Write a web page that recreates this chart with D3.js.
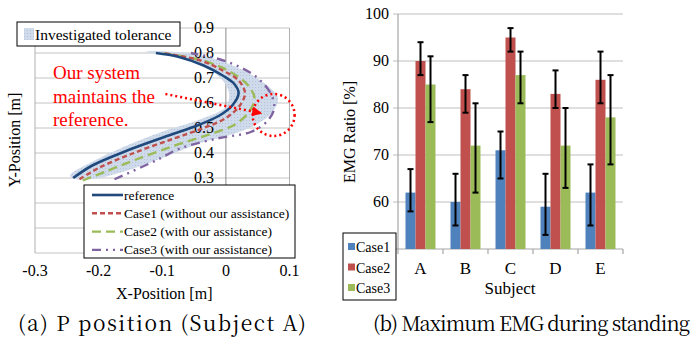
<!DOCTYPE html>
<html>
<head>
<meta charset="utf-8">
<script src="https://cdn.jsdelivr.net/npm/d3@7"></script>
<style>
  body { margin: 0; background: #fff; }
</style>
</head>
<body>
<div id="chart"></div>
<script>
// ---- (a) P position data ----
const refPath = [[-0.24,0.30],[-0.21,0.35],[-0.155,0.41],[-0.09,0.47],[-0.045,0.51],[-0.01,0.55],[0.01,0.59],[0.02,0.64],[0.012,0.68],[-0.005,0.71],[-0.035,0.75],[-0.075,0.785],[-0.11,0.80]];
const case1Path = [[-0.23,0.295],[-0.2,0.34],[-0.15,0.395],[-0.085,0.455],[-0.035,0.5],[0.0,0.54],[0.022,0.59],[0.03,0.64],[0.02,0.69],[-0.005,0.73],[-0.04,0.77],[-0.1,0.80]];
const case2Path = [[-0.225,0.29],[-0.19,0.325],[-0.14,0.375],[-0.08,0.43],[-0.025,0.475],[0.015,0.515],[0.038,0.57],[0.045,0.62],[0.035,0.67],[0.01,0.72],[-0.03,0.765],[-0.1,0.80]];
const case3Path = [[-0.175,0.295],[-0.11,0.37],[-0.07,0.42],[-0.01,0.46],[0.04,0.485],[0.066,0.53],[0.076,0.58],[0.07,0.64],[0.05,0.7],[0.025,0.74],[-0.01,0.775],[-0.055,0.80]];
const tolUpper = [[-0.245,0.31],[-0.21,0.365],[-0.16,0.425],[-0.1,0.485],[-0.04,0.535],[0.0,0.585],[0.005,0.64],[-0.005,0.69],[-0.03,0.74],[-0.07,0.78],[-0.125,0.805]];
const tolLower = [[-0.06,0.80],[-0.01,0.77],[0.035,0.72],[0.065,0.67],[0.082,0.62],[0.072,0.56],[0.045,0.51],[0.01,0.475],[-0.04,0.44],[-0.1,0.38],[-0.155,0.33],[-0.2,0.30],[-0.235,0.295]];
const xTicksA = [-0.3,-0.2,-0.1,0,0.1];
const yTicksA = [0.3,0.4,0.5,0.6,0.7,0.8,0.9];
const yGridA = [0,0.1,0.2,0.3,0.4,0.5,0.6,0.7,0.8,0.9];

// ---- (b) EMG data ----
const subjects = ["A","B","C","D","E"];
const cases = ["Case1","Case2","Case3"];
const case1Val = [62,60,71,59,62];
const case1Lo  = [58,55,65,53,55];
const case1Hi  = [67,66,75,66,68];
const case2Val = [90,84,95,83,86];
const case2Lo  = [87,79,92,80,81];
const case2Hi  = [94,87,97,88,92];
const case3Val = [85,72,87,72,78];
const case3Lo  = [77,62,81,63,68];
const case3Hi  = [91,81,92,80,87];
const yTicksB = [50,60,70,80,90,100];
const caseColors = ["#4f81bd","#c0504d","#9bbb59"];

const SERIF = '"Liberation Serif", "Times New Roman", monospace';
const CAP = '"Noto Serif CJK SC", "Liberation Serif", monospace';
const svg = d3.select("#chart").append("svg")
  .attr("width",695).attr("height",339);

// ================= (a) =================
const xa = d3.scaleLinear().domain([-0.3,0.1]).range([35,289.5]);
const ya = d3.scaleLinear().domain([0,0.9]).range([253,28]);
const ga = svg.append("g");

const defs = svg.append("defs");
const pat = defs.append("pattern").attr("id","tol").attr("width",3).attr("height",3)
  .attr("patternUnits","userSpaceOnUse");
pat.append("rect").attr("width",3).attr("height",3).attr("fill","#cfdaea");
pat.append("rect").attr("width",1).attr("height",1).attr("fill","#b3c4dc");
defs.append("marker").attr("id","arr").attr("viewBox","0 0 10 10")
  .attr("refX",8).attr("refY",5).attr("markerWidth",4).attr("markerHeight",4)
  .attr("orient","auto")
  .append("path").attr("d","M0,0L10,5L0,10z").attr("fill","#f00");

// grid
ga.selectAll(".hg").data(yGridA).enter().append("line")
  .attr("x1",xa(-0.3)).attr("x2",xa(0.1))
  .attr("y1",d=>ya(d)).attr("y2",d=>ya(d))
  .attr("stroke","#c4c4c4").attr("stroke-width",1);
ga.selectAll(".vg").data([-0.3,0,0.1]).enter().append("line")
  .attr("x1",d=>xa(d)).attr("x2",d=>xa(d))
  .attr("y1",ya(0)).attr("y2",ya(0.9))
  .attr("stroke",d=>d===0?"#8a8a8a":"#b0b0b0").attr("stroke-width",1);

// tolerance band
const bandLine = d3.line().x(d=>xa(d[0])).y(d=>ya(d[1])).curve(d3.curveCatmullRomClosed);
ga.append("path").datum(tolUpper.concat(tolLower))
  .attr("d",bandLine).attr("fill","url(#tol)").attr("stroke","none");

// y tick labels along x=0
ga.selectAll(".yl").data(yTicksA).enter().append("text")
  .attr("x",xa(0)-12).attr("y",d=>ya(d)+5)
  .attr("text-anchor","end").style("font-size","16px")
  .text(d=>d.toFixed(1));

// curves
const curve = d3.line().x(d=>xa(d[0])).y(d=>ya(d[1])).curve(d3.curveCatmullRom);
const series = [
  {name:"reference", data:refPath, color:"#1f497d", dash:null, w:2.6},
  {name:"Case1 (without our assistance)", data:case1Path, color:"#c0504d", dash:"5,3", w:2.4},
  {name:"Case2 (with our assistance)", data:case2Path, color:"#9bbb59", dash:"9,5", w:2.4},
  {name:"Case3 (with our assistance)", data:case3Path, color:"#8064a2", dash:"9,5,2,5,2,5", w:2.4}
];
series.slice().reverse().forEach(s=>{
  ga.append("path").datum(s.data).attr("d",curve)
    .attr("fill","none").attr("stroke",s.color).attr("stroke-width",s.w)
    .attr("stroke-dasharray",s.dash);
});

// annotation
const ann = ga.append("g");
["Our system","maintains the","reference."].forEach((t,i)=>{
  ann.append("text").attr("x",53).attr("y",79+i*23.5)
    .style("font-size","19px").style("fill","#f00").text(t);
});
ann.append("line").attr("x1",xa(-0.095)).attr("y1",ya(0.636))
  .attr("x2",xa(0.054)).attr("y2",ya(0.56))
  .attr("stroke","#f00").attr("stroke-width",2.5).attr("stroke-dasharray","2,3")
  .attr("marker-end","url(#arr)");
ann.append("circle").attr("cx",xa(0.075)).attr("cy",ya(0.552)).attr("r",21)
  .attr("fill","none").attr("stroke","#f00").attr("stroke-width",2.5)
  .attr("stroke-dasharray","2,3");

// tolerance legend
ga.append("rect").attr("x",17).attr("y",22).attr("width",163).attr("height",24)
  .attr("fill","#fff").attr("stroke","#000").attr("stroke-width",1);
ga.append("rect").attr("x",24).attr("y",28).attr("width",10).attr("height",12)
  .attr("fill","url(#tol)");
ga.append("text").attr("x",35).attr("y",39.5).style("font-size","15.5px").text("Investigated tolerance");

// series legend
const lg = ga.append("g");
lg.append("rect").attr("x",84).attr("y",185).attr("width",211).attr("height",73)
  .attr("fill","#fff").attr("stroke","#000").attr("stroke-width",1);
series.forEach((s,i)=>{
  const yy = 195+i*18.3;
  lg.append("line").attr("x1",92).attr("x2",123).attr("y1",yy).attr("y2",yy)
    .attr("stroke",s.color).attr("stroke-width",s.w).attr("stroke-dasharray",s.dash);
  lg.append("text").attr("x",124).attr("y",yy+4.5).style("font-size","13.5px").text(s.name);
});

// x tick labels
ga.selectAll(".xl").data(xTicksA).enter().append("text")
  .attr("x",d=>xa(d)).attr("y",276).attr("text-anchor","middle")
  .style("font-size","16px").text(d=>d===0?"0":d.toFixed(1));
ga.append("text").attr("x",xa(-0.1)+2).attr("y",299).attr("text-anchor","middle")
  .style("font-size","16px").text("X-Position [m]");
ga.append("text").attr("transform","translate(20,140) rotate(-90)")
  .attr("text-anchor","middle").style("font-size","16px").text("Y-Position [m]");

// ================= (b) =================
const xb = d3.scaleBand().domain(subjects).range([398,623]);
const xi = d3.scaleBand().domain(cases).range([0,30]);
const yb = d3.scaleLinear().domain([50,100]).range([249,14]);
const gb = svg.append("g");

gb.selectAll(".bg").data(yTicksB.slice(1)).enter().append("line")
  .attr("x1",393).attr("x2",623).attr("y1",d=>yb(d)).attr("y2",d=>yb(d))
  .attr("stroke","#bfbfbf").attr("stroke-width",1.2);
gb.append("line").attr("x1",398).attr("x2",398).attr("y1",yb(100)).attr("y2",yb(50))
  .attr("stroke","#a6a6a6").attr("stroke-width",1.2);
gb.append("line").attr("x1",393).attr("x2",623).attr("y1",yb(50)).attr("y2",yb(50))
  .attr("stroke","#a6a6a6").attr("stroke-width",1.2);
gb.selectAll(".xt").data(subjects.concat(["end"])).enter().append("line")
  .attr("x1",(d,i)=>398+i*xb.bandwidth()).attr("x2",(d,i)=>398+i*xb.bandwidth())
  .attr("y1",yb(50)).attr("y2",yb(50)+5)
  .attr("stroke","#a6a6a6").attr("stroke-width",1.2);

// the 50 label sits behind the legend in the original, so only 60..100 are shown
gb.selectAll(".yt").data(yTicksB.slice(1)).enter().append("text")
  .attr("x",389).attr("y",d=>yb(d)+5).attr("text-anchor","end")
  .style("font-size","16px").text(d=>d);

const vals = [case1Val,case2Val,case3Val];
const los = [case1Lo,case2Lo,case3Lo];
const his = [case1Hi,case2Hi,case3Hi];
const off = (xb.bandwidth()-30)/2;
cases.forEach((c,ci)=>{
  const bx = s=>xb(s)+off+xi(c);
  gb.selectAll(".bar"+ci).data(subjects).enter().append("rect")
    .attr("x",s=>bx(s)).attr("width",xi.bandwidth())
    .attr("y",(s,i)=>yb(vals[ci][i])).attr("height",(s,i)=>yb(50)-yb(vals[ci][i]))
    .attr("fill",caseColors[ci]);
});
cases.forEach((c,ci)=>{
  const cx = s=>xb(s)+off+xi(c)+xi.bandwidth()/2;
  const eb = gb.selectAll(".eb"+ci).data(subjects).enter().append("g")
    .attr("stroke","#000").attr("stroke-width",2);
  eb.append("line").attr("x1",cx).attr("x2",cx)
    .attr("y1",(s,i)=>yb(los[ci][i])).attr("y2",(s,i)=>yb(his[ci][i]));
  eb.append("line").attr("x1",s=>cx(s)-3).attr("x2",s=>cx(s)+3)
    .attr("y1",(s,i)=>yb(los[ci][i])).attr("y2",(s,i)=>yb(los[ci][i]));
  eb.append("line").attr("x1",s=>cx(s)-3).attr("x2",s=>cx(s)+3)
    .attr("y1",(s,i)=>yb(his[ci][i])).attr("y2",(s,i)=>yb(his[ci][i]));
});

gb.selectAll(".xl").data(subjects).enter().append("text")
  .attr("x",s=>xb(s)+xb.bandwidth()/2).attr("y",274).attr("text-anchor","middle")
  .style("font-size","17px").text(s=>s);
gb.append("text").attr("x",510).attr("y",294).attr("text-anchor","middle")
  .style("font-size","17px").text("Subject");
gb.append("text").attr("transform","translate(355,132) rotate(-90)")
  .attr("text-anchor","middle").style("font-size","16px").text("EMG Ratio [%]");

// legend b
const lb = gb.append("g");
lb.append("rect").attr("x",343).attr("y",233).attr("width",53).attr("height",67)
  .attr("fill","#fff").attr("stroke","#000").attr("stroke-width",1);
cases.forEach((c,i)=>{
  const yy = 247+i*20.5;
  lb.append("rect").attr("x",348).attr("y",yy-4).attr("width",7).attr("height",7)
    .attr("fill",caseColors[i]);
  lb.append("text").attr("x",356).attr("y",yy+5).style("font-size","14px").text(c);
});

// serif on every text, set inline
svg.selectAll("text").attr("font-family",SERIF).style("font-family",SERIF);

// captions
svg.append("text").attr("x",18).attr("y",331).attr("font-family",CAP).style("font-family",CAP)
  .style("font-size","21px").attr("textLength",288).attr("lengthAdjust","spacing")
  .text("(a) P position (Subject A)");
svg.append("text").attr("x",373).attr("y",331).attr("font-family",CAP).style("font-family",CAP)
  .style("font-size","20px").attr("textLength",317).attr("lengthAdjust","spacing")
  .text("(b) Maximum EMG during standing");
</script>
</body>
</html>
